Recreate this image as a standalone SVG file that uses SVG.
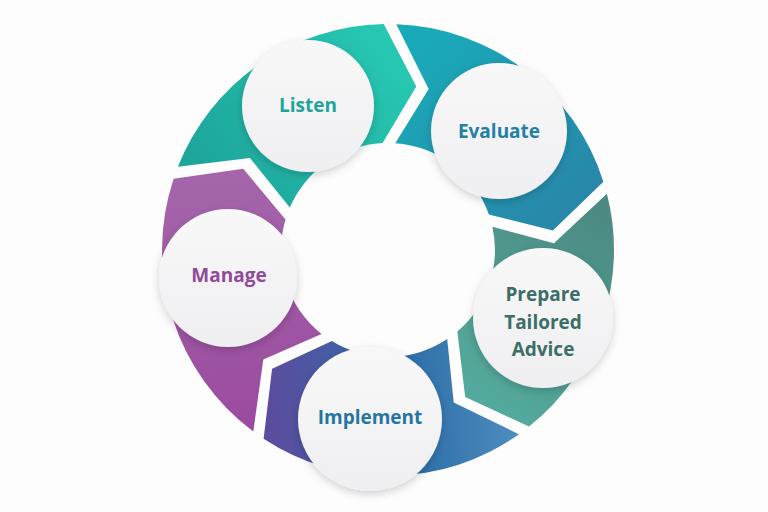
<svg xmlns="http://www.w3.org/2000/svg" width="768" height="512" viewBox="0 0 768 512">
<defs>
<linearGradient id="gListen" gradientUnits="userSpaceOnUse" x1="410" y1="60" x2="230" y2="200"><stop offset="0" stop-color="#27c9b3"/><stop offset="1" stop-color="#1ea69c"/></linearGradient>
<linearGradient id="gEval" gradientUnits="userSpaceOnUse" x1="420" y1="40" x2="590" y2="220"><stop offset="0" stop-color="#19aab9"/><stop offset="1" stop-color="#2a84a8"/></linearGradient>
<linearGradient id="gPrep" gradientUnits="userSpaceOnUse" x1="600" y1="210" x2="470" y2="380"><stop offset="0" stop-color="#4c8a82"/><stop offset="1" stop-color="#53a99b"/></linearGradient>
<linearGradient id="gImpl" gradientUnits="userSpaceOnUse" x1="520" y1="400" x2="270" y2="420"><stop offset="0" stop-color="#4e8dbf"/><stop offset="0.45" stop-color="#2d6ea8"/><stop offset="1" stop-color="#5c4c9e"/></linearGradient>
<linearGradient id="gMan" gradientUnits="userSpaceOnUse" x1="230" y1="170" x2="250" y2="430"><stop offset="0" stop-color="#a466aa"/><stop offset="1" stop-color="#9b4a9f"/></linearGradient>
<linearGradient id="gCirc" x1="0" y1="0" x2="0" y2="1"><stop offset="0" stop-color="#f8f8f9"/><stop offset="1" stop-color="#efeff1"/></linearGradient>
<filter id="shadow" x="-30%" y="-30%" width="160%" height="160%"><feDropShadow dx="0" dy="3" stdDeviation="4" flood-color="#000" flood-opacity="0.18"/></filter>
</defs>
<style>
.circ{fill:url(#gCirc);filter:url(#shadow)}
.lbl{font-family:"Open Sans","Liberation Sans",sans-serif;font-weight:700;font-size:19px;text-anchor:middle;dominant-baseline:central}
</style>
<rect width="768" height="512" fill="#fdfdfd"/>
<g id="listen">
<path fill="url(#gListen)" d="M177.9,166.8 A226,226 0 0 1 383.7,24 L416.3,86.4 L382.6,143.1 A107,107 0 0 0 289.8,207.5 L249.9,157.9 Z"/>
<circle class="circ" cx="308" cy="106" r="66"/>
<text class="lbl" x="308" y="105" fill="#1ea49c">Listen</text>
</g>
<g id="evaluate">
<path fill="url(#gEval)" d="M396.3,24.2 A226,226 0 0 1 603.4,181.7 L552.9,230.6 L488.9,214.5 A107,107 0 0 0 395.3,143.2 L428.7,89.1 Z"/>
<circle class="circ" cx="499" cy="131" r="68"/>
<text class="lbl" x="499" y="131" fill="#237fa3">Evaluate</text>
</g>
<g id="prepare">
<path fill="url(#gPrep)" d="M606.9,193.8 A226,226 0 0 1 529,426.6 L465.2,397 L457.3,331.5 A107,107 0 0 0 492.4,226.7 L553.9,243.3 Z"/>
<circle class="circ" cx="543" cy="318" r="70"/>
<text class="lbl" x="543" y="294" fill="#3c6e68">Prepare</text>
<text class="lbl" x="543" y="322" fill="#3c6e68">Tailored</text>
<text class="lbl" x="543" y="349" fill="#3c6e68">Advice</text>
</g>
<g id="implement">
<path fill="url(#gImpl)" d="M518.9,434.2 A226,226 0 0 1 263.6,438.7 L272.1,368.8 L331.9,341.1 A107,107 0 0 0 447.2,339.1 L453.7,402.5 Z"/>
<circle class="circ" cx="370" cy="419" r="72"/>
<text class="lbl" x="370" y="417" fill="#2375a2">Implement</text>
</g>
<g id="manage">
<path fill="url(#gMan)" d="M253.3,431.4 A226,226 0 0 1 173.6,178.7 L243.2,168.8 L285.5,219.4 A107,107 0 0 0 321.5,333.9 L263.3,359.6 Z"/>
<circle class="circ" cx="228" cy="278" r="69"/>
<text class="lbl" x="229" y="275" fill="#8f4b9b">Manage</text>
</g>
<g id="connectors"/>
</svg>
